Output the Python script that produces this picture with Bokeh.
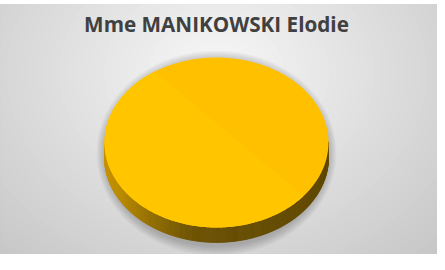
import numpy as np
from bokeh.plotting import figure
from bokeh.models import Range1d
from bokeh.core.properties import value
from bokeh.embed import file_html
from bokeh.resources import INLINE

# ---- data ----
title_text = "Mme MANIKOWSKI Elodie"
categories = ["Mme MANIKOWSKI Elodie"]
values = [100.0]
slice_colors = ["#FFC000"]

# ---- layout (page pixels) ----
W, H = 437, 254
X0, X1 = 8, 445
Y0, Y1 = 12, 262
CX, CY = 224, 150      # pie top-face centre
RX, RY = 112, 85       # pie top-face radii
DEPTH = 15             # pie thickness
GC = (224, 80)         # background gradient centre

p = figure(width=W, height=H, output_backend="svg", toolbar_location=None,
           x_range=Range1d(X0, X1), y_range=Range1d(Y1, Y0),
           min_border_left=0, min_border_right=0, min_border_top=4, min_border_bottom=0,
           background_fill_color="#c4c4c4", border_fill_color="white",
           outline_line_color="#b0b0b0", outline_line_width=1)
p.axis.visible = False
p.grid.visible = False

# ---- radial background (banded like the original) ----
radii = np.arange(300, 0, -6)
for r in radii:
    g = int(round(248 - 57 * min(r / 295.0, 1.0)))
    col = "#%02x%02x%02x" % (g, g, g)
    p.ellipse(x=[GC[0]], y=[GC[1]], width=[2 * r * 1.25], height=[2 * r],
              fill_color=col, line_color=None)

# ---- soft shadow under the pie ----
for k in range(7):
    p.ellipse(x=[CX], y=[CY + DEPTH * 0.5 + 3], width=[2 * (RX + 8 - k * 1.2)],
              height=[2 * (RY + DEPTH * 0.5 + 10 - k * 1.4)],
              fill_color="black", fill_alpha=0.03, line_color=None)

# ---- pie geometry from data ----
total = float(sum(values))
start = np.pi / 2
side_xs, side_ys, side_cols = [], [], []
top_xs, top_ys, top_cols = [], [], []

def side_color(x):
    t = (x - (CX - RX)) / (2.0 * RX)
    stops = [(0.0, (200, 150, 0)), (0.08, (185, 138, 0)), (0.2, (150, 112, 0)),
             (0.38, (112, 84, 0)), (0.5, (105, 79, 0)), (1.0, (98, 73, 0))]
    for (t0, c0), (t1, c1) in zip(stops[:-1], stops[1:]):
        if t <= t1:
            f = (t - t0) / (t1 - t0) if t1 > t0 else 0
            f = min(max(f, 0), 1)
            c = [int(round(a + (b - a) * f)) for a, b in zip(c0, c1)]
            return "#%02x%02x%02x" % tuple(c)
    return "#%02x%02x%02x" % stops[-1][1]

a = start
for v, c in zip(values, slice_colors):
    span = 2 * np.pi * v / total
    th = np.linspace(a, a + span, 721)
    ex = CX + RX * np.cos(th)
    ey = CY - RY * np.sin(th)
    for i in range(len(th) - 1):
        if np.sin(th[i]) <= 0 or np.sin(th[i + 1]) <= 0:
            xm = 0.5 * (ex[i] + ex[i + 1])
            side_xs.append([ex[i], ex[i + 1], ex[i + 1], ex[i]])
            side_ys.append([ey[i], ey[i + 1], ey[i + 1] + DEPTH, ey[i] + DEPTH])
            side_cols.append(side_color(xm))
    if span < 2 * np.pi - 1e-9:
        top_xs.append([CX] + list(ex))
        top_ys.append([CY] + list(ey))
    else:
        top_xs.append(list(ex))
        top_ys.append(list(ey))
    top_cols.append(c)
    a += span

p.patches(side_xs, side_ys, fill_color=side_cols, line_color=side_cols, line_width=0.6)
p.patches(top_xs, top_ys, fill_color=top_cols, line_color=None)

# subtle lighting split on the top face (lighter lower-left part)
def clip_halfplane(xs, ys, p0, p1):
    out = []
    pts = list(zip(xs, ys))
    def side(pt):
        return (p1[0] - p0[0]) * (pt[1] - p0[1]) - (p1[1] - p0[1]) * (pt[0] - p0[0])
    for i in range(len(pts)):
        cur, nxt = pts[i], pts[(i + 1) % len(pts)]
        sc, sn = side(cur), side(nxt)
        if sc >= 0:
            out.append(cur)
        if (sc >= 0) != (sn >= 0):
            f = sc / (sc - sn)
            out.append((cur[0] + f * (nxt[0] - cur[0]), cur[1] + f * (nxt[1] - cur[1])))
    return [q[0] for q in out], [q[1] for q in out]

lx, ly = clip_halfplane(top_xs[0], top_ys[0], (163, 80), (333, 222))
p.patch(lx, ly, fill_color="#FFC600", line_color=None)

# ---- title ----
p.text(x=[CX], y=[31], text=[title_text], text_align="center", text_baseline="middle",
       text_font=value("Open Sans"), text_font_style="bold", text_font_size="20.7px",
       text_color="#404040")

open("out.html", "w").write(file_html(p, INLINE))
